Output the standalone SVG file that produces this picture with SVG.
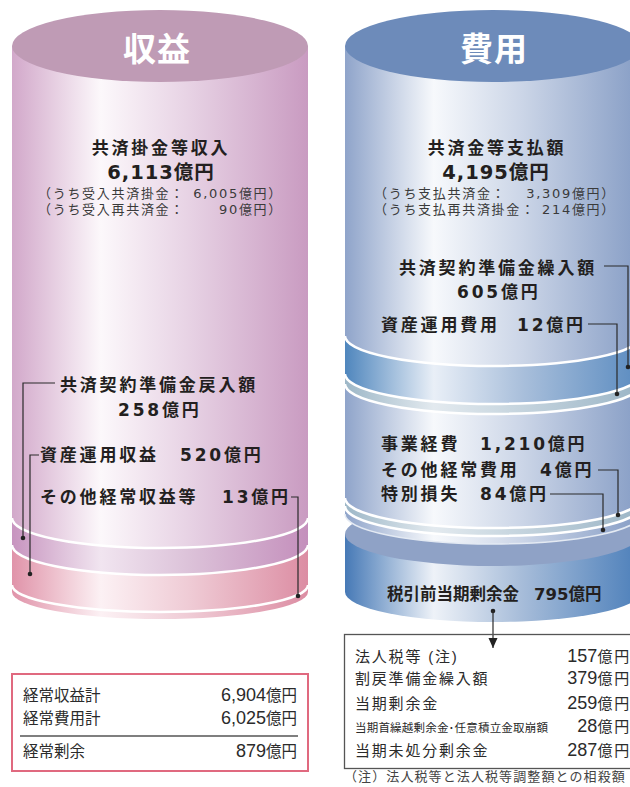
<svg xmlns="http://www.w3.org/2000/svg" width="630" height="787" viewBox="0 0 630 787">
  <defs>
    <!-- revenue cylinder shading -->
    <linearGradient id="gRevBody" gradientUnits="userSpaceOnUse" x1="12" y1="0" x2="308" y2="0">
      <stop offset="0" stop-color="#d2a8ca"/>
      <stop offset="0.3" stop-color="#fcf8fb"/>
      <stop offset="0.6" stop-color="#e7d2e4"/>
      <stop offset="1" stop-color="#c99bc1"/>
    </linearGradient>
    <linearGradient id="gRevBand" gradientUnits="userSpaceOnUse" x1="12" y1="0" x2="308" y2="0">
      <stop offset="0" stop-color="#c794bf"/>
      <stop offset="0.3" stop-color="#f1e5f0"/>
      <stop offset="0.6" stop-color="#dcc2d9"/>
      <stop offset="1" stop-color="#c48fbc"/>
    </linearGradient>
    <linearGradient id="gRevBase" gradientUnits="userSpaceOnUse" x1="12" y1="0" x2="308" y2="0">
      <stop offset="0" stop-color="#e093a9"/>
      <stop offset="0.3" stop-color="#fcf1f4"/>
      <stop offset="0.6" stop-color="#efcbd5"/>
      <stop offset="1" stop-color="#dc8da3"/>
    </linearGradient>
    <!-- expense cylinder shading -->
    <linearGradient id="gExpBody" gradientUnits="userSpaceOnUse" x1="345" y1="0" x2="641" y2="0">
      <stop offset="0" stop-color="#8fa4ca"/>
      <stop offset="0.3" stop-color="#f7f9fc"/>
      <stop offset="0.6" stop-color="#cbd5e7"/>
      <stop offset="1" stop-color="#869dc5"/>
    </linearGradient>
    <linearGradient id="gExpBand" gradientUnits="userSpaceOnUse" x1="345" y1="0" x2="641" y2="0">
      <stop offset="0" stop-color="#4f86bd"/>
      <stop offset="0.3" stop-color="#e9eff7"/>
      <stop offset="0.6" stop-color="#a9bfdb"/>
      <stop offset="1" stop-color="#5a8bc0"/>
    </linearGradient>
    <linearGradient id="gExpStrip" gradientUnits="userSpaceOnUse" x1="345" y1="0" x2="641" y2="0">
      <stop offset="0" stop-color="#9db7c7"/>
      <stop offset="0.3" stop-color="#e3eaef"/>
      <stop offset="1" stop-color="#9bb5c6"/>
    </linearGradient>
    <linearGradient id="gExpBase" gradientUnits="userSpaceOnUse" x1="345" y1="0" x2="641" y2="0">
      <stop offset="0" stop-color="#4679b6"/>
      <stop offset="0.3" stop-color="#eef2f8"/>
      <stop offset="0.6" stop-color="#a6bcd9"/>
      <stop offset="1" stop-color="#4c7fba"/>
    </linearGradient>
    <marker id="arrowHead" viewBox="0 0 10 10" refX="10" refY="5" markerWidth="10" markerHeight="10" markerUnits="userSpaceOnUse" orient="auto">
      <path d="M0,0.5 L10,5 L0,9.5 Z" fill="#222"/>
    </marker>
    <style>
      .rim { fill: none; stroke: #ffffff; stroke-width: 2.5; }
      .ttl { font-family: "Noto Sans CJK JP", sans-serif; font-weight: 700; font-size: 33px; fill: #ffffff; letter-spacing: 1px; }
      .lb { font-family: "DejaVu Sans", "Noto Sans CJK JP", sans-serif; font-weight: 700; font-size: 17px; fill: #231f20; letter-spacing: 2.8px; }
      .big { font-family: "DejaVu Sans", "Noto Sans CJK JP", sans-serif; font-weight: 700; font-size: 19.5px; fill: #231f20; letter-spacing: 1px; }
      .sm { font-family: "DejaVu Sans", "Noto Sans CJK JP", sans-serif; font-size: 13px; fill: #3a3a3a; letter-spacing: 1.7px; }
      .bx { font-family: "Liberation Sans", "Noto Sans CJK JP", sans-serif; font-size: 15.5px; fill: #2b2b2b; }
      .bxr { font-family: "Liberation Sans", "Noto Sans CJK JP", sans-serif; font-size: 15px; fill: #2b2b2b; letter-spacing: 1.8px; }
      .dg { font-size: 18px; letter-spacing: 0; }
      .note { font-family: "Noto Sans CJK JP", sans-serif; font-size: 13px; fill: #444; letter-spacing: 1.1px; }
      .lead { fill: none; stroke: #2a2a2a; stroke-width: 1.2; }
      .dot { fill: #222; }
    </style>
  </defs>

  <!-- 収益 cylinder -->
  <g id="revenue">
    <path d="M12,545 L12,592 A148,27 0 0 0 308,592 L308,545 Z" fill="url(#gRevBase)"/>
    <path d="M12,518 L12,545 A148,30 0 0 0 308,545 L308,518 Z" fill="url(#gRevBand)"/>
    <path d="M12,46 L12,518 A148,30 0 0 0 308,518 L308,46 Z" fill="url(#gRevBody)"/>
    <ellipse cx="160" cy="46" rx="148" ry="36" fill="#bf9bb5"/>
    <path class="rim" d="M12,518 A148,30 0 0 0 308,518"/>
    <path class="rim" d="M12,545 A148,30 0 0 0 308,545"/>
    <path class="rim" d="M12,585 A148,27 0 0 0 308,585"/>
    <text class="ttl" x="157" y="61" text-anchor="middle">収益</text>
  </g>

  <g id="revenue-premium">
    <text class="lb" x="161" y="153.5" text-anchor="middle">共済掛金等収入</text>
    <text class="big" x="161" y="179" text-anchor="middle">6,113億円</text>
    <text class="sm" x="38" y="198">（うち受入共済掛金：</text>
    <text class="sm" x="283" y="198" text-anchor="end">6,005億円）</text>
    <text class="sm" x="38" y="214">（うち受入再共済金：</text>
    <text class="sm" x="283" y="214" text-anchor="end">90億円）</text>
  </g>

  <g id="revenue-reserve">
    <text class="lb" x="60" y="391">共済契約準備金戻入額</text>
    <text class="lb" x="118" y="415.5">258億円</text>
  </g>

  <g id="revenue-investment">
    <text class="lb" x="40" y="461">資産運用収益</text>
    <text class="lb" x="180" y="461">520億円</text>
  </g>

  <g id="revenue-other">
    <text class="lb" x="40" y="503">その他経常収益等</text>
    <text class="lb" x="222" y="503">13億円</text>
  </g>

  <!-- 費用 cylinder -->
  <g id="expense">
    <path d="M345,534 L345,592 A148,30 0 0 0 641,592 L641,534 Z" fill="url(#gExpBase)"/>
    <ellipse cx="493" cy="534" rx="148" ry="32" fill="#8fa2c6"/>
    <path d="M345,384 L345,514 A148,30 0 0 0 641,514 L641,384 Z" fill="url(#gExpBody)"/>
    <path d="M345,514 A148,30 0 0 0 641,514" fill="none" stroke="#e4eaf3" stroke-width="1.5"/>
    <path d="M345,374 L345,384 A148,30 0 0 0 641,384 L641,374 Z" fill="url(#gExpStrip)"/>
    <path d="M345,336 L345,374 A148,30 0 0 0 641,374 L641,336 Z" fill="url(#gExpBand)"/>
    <path d="M345,46 L345,336 A148,30 0 0 0 641,336 L641,46 Z" fill="url(#gExpBody)"/>
    <path d="M345,498 A148,30 0 0 0 641,498 L641,506 A148,30 0 0 1 345,506 Z" fill="url(#gExpStrip)"/>
    <ellipse cx="493" cy="46" rx="148" ry="36" fill="#6d8bba"/>
    <path class="rim" d="M345,336 A148,30 0 0 0 641,336"/>
    <path class="rim" d="M345,374 A148,30 0 0 0 641,374"/>
    <path class="rim" d="M345,384 A148,30 0 0 0 641,384"/>
    <path class="rim" d="M345,498 A148,30 0 0 0 641,498"/>
    <path class="rim" d="M345,506 A148,30 0 0 0 641,506"/>
    <text class="ttl" x="494" y="61" text-anchor="middle">費用</text>
  </g>

  <g id="expense-claims">
    <text class="lb" x="497" y="153.5" text-anchor="middle">共済金等支払額</text>
    <text class="big" x="496" y="179" text-anchor="middle">4,195億円</text>
    <text class="sm" x="374" y="198">（うち支払共済金：</text>
    <text class="sm" x="616" y="198" text-anchor="end">3,309億円）</text>
    <text class="sm" x="374" y="214">（うち支払再共済掛金：</text>
    <text class="sm" x="616" y="214" text-anchor="end">214億円）</text>
  </g>

  <g id="expense-reserve">
    <text class="lb" x="399" y="274">共済契約準備金繰入額</text>
    <text class="lb" x="457" y="298">605億円</text>
  </g>

  <g id="expense-investment">
    <text class="lb" x="381" y="330.5">資産運用費用</text>
    <text class="lb" x="517" y="330.5">12億円</text>
  </g>

  <g id="expense-operating">
    <text class="lb" x="381" y="450">事業経費</text>
    <text class="lb" x="480" y="450">1,210億円</text>
  </g>

  <g id="expense-other">
    <text class="lb" x="381" y="476">その他経常費用</text>
    <text class="lb" x="540" y="476">4億円</text>
  </g>

  <g id="expense-special">
    <text class="lb" x="381" y="500">特別損失</text>
    <text class="lb" x="480" y="500">84億円</text>
  </g>

  <g id="pretax-surplus">
    <text class="lb" x="387" y="600" style="letter-spacing:0;font-size:16.5px">税引前当期剰余金</text>
    <text class="lb" x="534" y="600" style="letter-spacing:0;font-size:16.5px">795億円</text>
  </g>

  <!-- leader lines and the flow arrow -->
  <g id="connectors">
    <path class="lead" d="M55,383 H23 V538"/>
    <circle class="dot" cx="23" cy="538" r="2.3"/>
    <path class="lead" d="M39,455 H30 V574"/>
    <circle class="dot" cx="30" cy="574" r="2.3"/>
    <path class="lead" d="M291,497 H298 V596"/>
    <circle class="dot" cx="298" cy="596" r="2.3"/>

    <path class="lead" d="M604,266 H628 V367"/>
    <circle class="dot" cx="628" cy="367" r="2.3"/>
    <path class="lead" d="M588,324 H617 V394"/>
    <circle class="dot" cx="617" cy="394" r="2.3"/>
    <path class="lead" d="M598,470 H618 V515"/>
    <circle class="dot" cx="618" cy="515" r="2.3"/>
    <path class="lead" d="M550,494 H603 V530"/>
    <circle class="dot" cx="603" cy="530" r="2.3"/>

    <circle class="dot" cx="493" cy="611" r="2.3"/>
    <path class="lead" d="M493,611 V648" marker-end="url(#arrowHead)"/>
  </g>

  <!-- ordinary income summary -->
  <g id="ordinary-summary">
    <rect x="12" y="674" width="296" height="97" fill="#ffffff" stroke="#e0697f" stroke-width="2"/>
    <text class="bx" x="23" y="701">経常収益計</text>
    <text class="bx" x="297" y="701" text-anchor="end"><tspan class="dg">6,904</tspan>億円</text>
    <text class="bx" x="23" y="724">経常費用計</text>
    <text class="bx" x="297" y="724" text-anchor="end"><tspan class="dg">6,025</tspan>億円</text>
    <path d="M20,736 H298" stroke="#555" stroke-width="1.5"/>
    <text class="bx" x="23" y="757">経常剰余</text>
    <text class="bx" x="297" y="757" text-anchor="end"><tspan class="dg">879</tspan>億円</text>
  </g>

  <!-- appropriation of surplus -->
  <g id="surplus-appropriation">
    <rect x="344.5" y="634.5" width="300" height="134" fill="none" stroke="#555" stroke-width="1.3"/>
    <text class="bxr" x="355" y="662">法人税等 (注)</text>
    <text class="bxr" x="631" y="662" text-anchor="end"><tspan class="dg">157</tspan>億円</text>
    <text class="bxr" x="355" y="684">割戻準備金繰入額</text>
    <text class="bxr" x="631" y="684" text-anchor="end"><tspan class="dg">379</tspan>億円</text>
    <text class="bxr" x="355" y="709">当期剰余金</text>
    <text class="bxr" x="631" y="709" text-anchor="end"><tspan class="dg">259</tspan>億円</text>
    <text class="bxr" x="355" y="732" style="font-size:11.5px;letter-spacing:0.2px">当期首繰越剰余金･任意積立金取崩額</text>
    <text class="bxr" x="631" y="732" text-anchor="end"><tspan class="dg">28</tspan>億円</text>
    <text class="bxr" x="355" y="756">当期未処分剰余金</text>
    <text class="bxr" x="631" y="756" text-anchor="end"><tspan class="dg">287</tspan>億円</text>
  </g>

  <text class="note" x="344" y="781">（注）法人税等と法人税等調整額との相殺額</text>
</svg>
